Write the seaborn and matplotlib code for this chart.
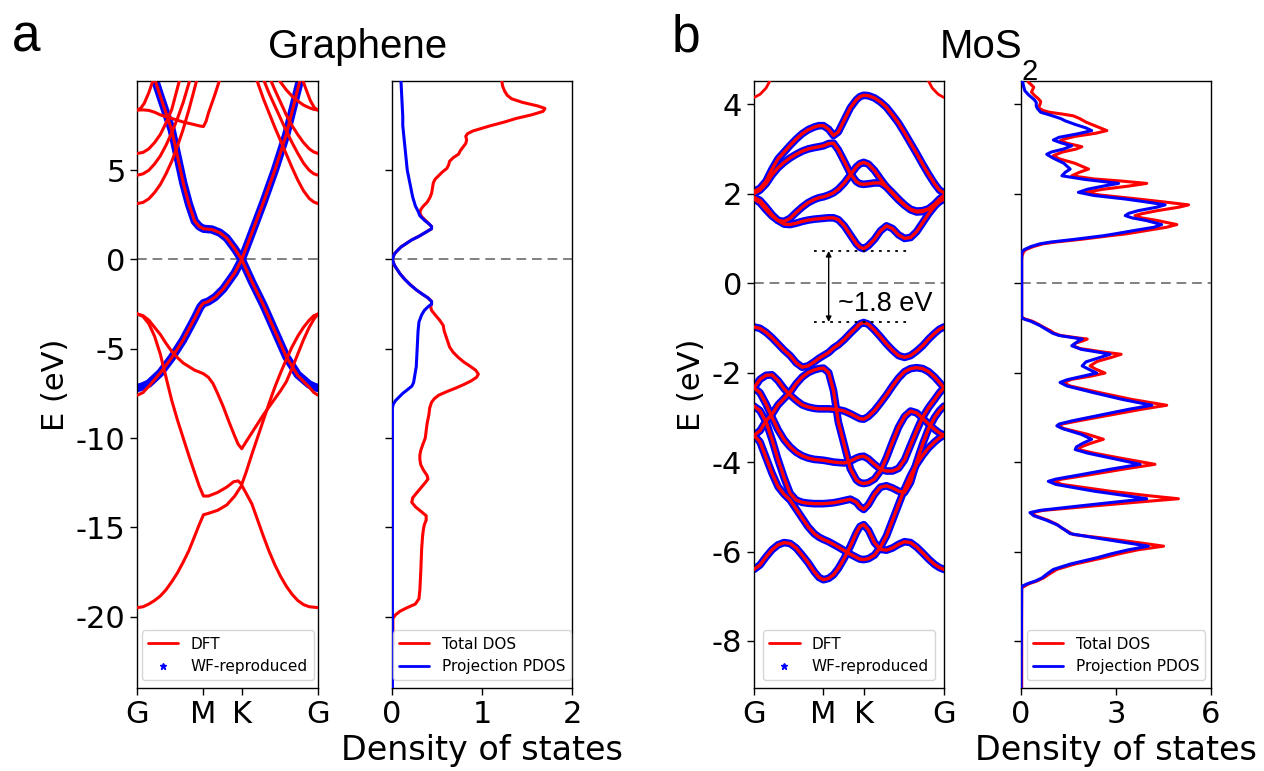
import numpy as np
import pandas as pd
import matplotlib
matplotlib.use("Agg")
import matplotlib.pyplot as plt
import seaborn as sns
from matplotlib.lines import Line2D

# ------------------------------------------------------------------ data
KPATH = [0.0, 0.577, 0.911, 1.577]
KLABELS = ["G", "M", "K", "G"]

# ---- graphene DFT bands, (k, E) pairs
gr_pi = [(0, -7.6), (0.05, -7.45), (0.1, -7.1), (0.2, -6.35), (0.3, -5.5), (0.4, -4.5), (0.5, -3.3),
         (0.55, -2.65), (0.577, -2.45), (0.62, -2.35), (0.68, -2.1), (0.75, -1.65), (0.85, -0.75),
         (0.911, 0.0), (1.0, -1.25), (1.1, -2.55), (1.2, -4.0), (1.3, -5.45), (1.4, -6.5), (1.5, -7.15),
         (1.54, -7.45), (1.577, -7.6)]
gr_pistar = [(0.154, 10.05), (0.2, 9.15), (0.3, 7.25), (0.4, 4.3), (0.45, 3.1), (0.5, 2.15), (0.54, 1.85),
             (0.577, 1.72), (0.65, 1.68), (0.72, 1.5), (0.78, 1.2), (0.85, 0.6), (0.911, 0.0), (1.0, 1.5),
             (1.1, 3.2), (1.2, 5.0), (1.3, 7.0), (1.42, 10.05)]
gr_s1 = [(0, -19.5), (0.05, -19.45), (0.1, -19.3), (0.15, -19.1), (0.2, -18.85), (0.25, -18.5), (0.3, -18.05),
         (0.35, -17.55), (0.4, -16.95), (0.45, -16.3), (0.5, -15.5), (0.54, -14.85), (0.577, -14.3),
         (0.62, -14.22), (0.7, -14.05), (0.78, -13.75), (0.85, -13.25), (0.88, -12.95), (0.911, -12.65),
         (0.95, -13.1), (1.0, -13.7), (1.05, -14.6), (1.1, -15.5), (1.15, -16.35), (1.2, -17.1),
         (1.25, -17.75), (1.3, -18.3), (1.35, -18.75), (1.4, -19.1), (1.45, -19.33), (1.5, -19.45),
         (1.577, -19.5)]
gr_s2 = [(0, -3.05), (0.05, -3.2), (0.1, -3.6), (0.15, -4.3), (0.2, -5.3), (0.25, -6.6), (0.3, -7.9),
         (0.35, -9.0), (0.4, -10.0), (0.45, -11.0), (0.5, -11.95), (0.54, -12.7), (0.577, -13.25),
         (0.62, -13.25), (0.7, -13.05), (0.78, -12.75), (0.84, -12.45), (0.88, -12.4), (0.911, -12.6),
         (0.95, -11.9), (1.0, -10.9), (1.05, -9.95), (1.1, -9.0), (1.15, -8.05), (1.2, -7.15),
         (1.25, -6.35), (1.3, -5.6), (1.35, -4.9), (1.4, -4.3), (1.45, -3.8), (1.5, -3.4), (1.54, -3.15),
         (1.577, -3.05)]
gr_s3 = [(0, -3.05), (0.05, -3.15), (0.1, -3.4), (0.15, -3.8), (0.2, -4.2), (0.25, -4.7), (0.3, -5.15),
         (0.35, -5.5), (0.4, -5.8), (0.45, -6.0), (0.5, -6.2), (0.54, -6.3), (0.577, -6.4), (0.62, -6.6),
         (0.66, -6.95), (0.7, -7.5), (0.75, -8.25), (0.8, -9.1), (0.85, -9.9), (0.88, -10.35),
         (0.911, -10.6), (0.95, -10.2), (1.0, -9.7), (1.05, -9.2), (1.1, -8.7), (1.15, -8.25), (1.2, -7.8),
         (1.25, -7.35), (1.3, -6.85), (1.35, -6.1), (1.4, -5.3), (1.45, -4.5), (1.5, -3.8), (1.54, -3.35),
         (1.577, -3.05)]
gr_c1 = [(0, 3.13), (0.05, 3.2), (0.1, 3.4), (0.15, 3.75), (0.2, 4.2), (0.25, 4.8), (0.3, 5.5), (0.35, 6.35),
         (0.4, 7.3), (0.45, 8.4), (0.5, 9.6), (0.52, 10.1)]
gr_c2 = [(0, 4.72), (0.05, 4.8), (0.1, 5.0), (0.15, 5.35), (0.2, 5.8), (0.25, 6.4), (0.3, 7.1), (0.35, 7.9),
         (0.4, 8.8), (0.46, 10.1)]
gr_c3 = [(0, 5.94), (0.05, 6.0), (0.1, 6.2), (0.15, 6.55), (0.2, 7.0), (0.25, 7.65), (0.3, 8.4), (0.37, 10.1)]
gr_c4 = [(0, 8.37), (0.05, 8.38), (0.1, 8.35), (0.15, 8.25), (0.2, 8.1), (0.3, 7.9), (0.4, 7.7), (0.5, 7.55),
         (0.55, 7.47), (0.577, 7.45), (0.6, 7.75), (0.62, 8.2), (0.65, 8.75), (0.68, 9.3), (0.72, 10.1)]
gr_c5 = [(0, 8.37), (0.03, 8.48), (0.06, 8.75), (0.1, 9.35), (0.14, 10.1)]
gr_c1r = [(1.04, 10.1), (1.1, 9.0), (1.15, 8.2), (1.2, 7.4), (1.25, 6.65), (1.3, 5.9), (1.35, 5.15), (1.4, 4.45),
          (1.45, 3.85), (1.5, 3.42), (1.54, 3.22), (1.577, 3.13)]
gr_c2r = [(1.1, 10.1), (1.15, 9.3), (1.2, 8.6), (1.25, 7.9), (1.3, 7.2), (1.35, 6.55), (1.4, 5.95), (1.45, 5.4),
          (1.5, 5.0), (1.54, 4.8), (1.577, 4.72)]
gr_c3r = [(1.16, 10.1), (1.2, 9.5), (1.25, 8.8), (1.3, 8.1), (1.35, 7.5), (1.4, 7.0), (1.45, 6.55), (1.5, 6.2),
          (1.54, 6.02), (1.577, 5.94)]
gr_c4r = [(1.23, 10.1), (1.3, 9.5), (1.35, 9.15), (1.4, 8.88), (1.45, 8.65), (1.5, 8.5), (1.54, 8.41),
          (1.577, 8.37)]
gr_c5r = [(1.44, 10.1), (1.48, 9.4), (1.51, 8.9), (1.545, 8.5), (1.577, 8.37)]

# ---- graphene Wannier-reproduced bands (pz only)
gr_wf_pi = [(0, -7.2), (0.05, -7.1), (0.1, -6.95), (0.2, -6.35), (0.3, -5.5), (0.4, -4.5), (0.5, -3.3),
            (0.55, -2.65), (0.577, -2.45), (0.62, -2.35), (0.68, -2.1), (0.75, -1.65), (0.85, -0.75),
            (0.911, 0.0), (1.0, -1.25), (1.1, -2.55), (1.2, -4.0), (1.3, -5.45), (1.4, -6.45), (1.5, -7.0),
            (1.54, -7.12), (1.577, -7.2)]
gr_wf_pistar = gr_pistar

# ---- graphene DOS (E, value)
gr_tdos_E = [10.0, 9.7, 9.45, 9.2, 9.0, 8.8, 8.6, 8.46, 8.3, 8.1, 7.9, 7.7, 7.5, 7.35, 7.2, 7.05, 6.9, 6.7,
             6.5, 6.3, 6.1, 5.9, 5.7, 5.5, 5.3, 5.1, 4.9, 4.7, 4.5, 4.3, 4.0, 3.7, 3.45, 3.2, 3.0, 2.8,
             2.6, 2.4, 2.2, 2.0, 1.85, 1.72, 1.6, 1.45, 1.3, 1.1, 0.9, 0.7, 0.5, 0.3, 0.0, -0.3, -0.5,
             -0.8, -1.1, -1.4, -1.7, -1.95, -2.15, -2.35, -2.5, -2.65, -2.85, -3.1, -3.4, -3.7, -4.0,
             -4.3, -4.6, -4.9, -5.2, -5.5, -5.75, -5.95, -6.2, -6.42, -6.6, -6.8, -7.0, -7.2, -7.4,
             -7.6, -7.8, -8.0, -8.3, -8.7, -9.2, -9.6, -10.0, -10.4, -10.7, -10.95, -11.2, -11.5,
             -11.8, -12.1, -12.3, -12.5, -12.8, -13.1, -13.35, -13.6, -13.85, -14.1, -14.35, -14.6,
             -14.85, -15.1, -15.5, -16.2, -17.5, -18.5, -19.0, -19.3, -19.5, -19.7, -19.9, -20.1, -21.6]
gr_tdos = [1.22, 1.23, 1.25, 1.28, 1.33, 1.45, 1.62, 1.70, 1.68, 1.55, 1.38, 1.25, 1.10, 1.00, 0.90, 0.84,
           0.82, 0.83, 0.82, 0.79, 0.76, 0.74, 0.68, 0.64, 0.63, 0.61, 0.56, 0.52, 0.48, 0.46, 0.45, 0.44,
           0.42, 0.39, 0.35, 0.32, 0.31, 0.33, 0.37, 0.41, 0.44, 0.44, 0.40, 0.35, 0.30, 0.22, 0.16, 0.10,
           0.06, 0.025, 0.005, 0.025, 0.05, 0.09, 0.14, 0.20, 0.27, 0.34, 0.40, 0.44, 0.44, 0.43, 0.44,
           0.48, 0.53, 0.57, 0.58, 0.60, 0.62, 0.64, 0.68, 0.74, 0.80, 0.86, 0.93, 0.96, 0.94, 0.88,
           0.80, 0.71, 0.61, 0.52, 0.47, 0.44, 0.42, 0.41, 0.39, 0.38, 0.37, 0.34, 0.32, 0.31, 0.31,
           0.32, 0.35, 0.39, 0.40, 0.37, 0.32, 0.27, 0.23, 0.22, 0.26, 0.32, 0.38, 0.38, 0.36, 0.35,
           0.34, 0.33, 0.32, 0.31, 0.30, 0.26, 0.17, 0.09, 0.04, 0.01, 0.01]
gr_pdos_E = [10.0, 9.0, 8.0, 7.5, 7.0, 6.5, 6.0, 5.5, 5.0, 4.5, 4.0, 3.5, 3.0, 2.7, 2.45, 2.2, 2.0, 1.85,
             1.72, 1.6, 1.45, 1.3, 1.1, 0.9, 0.7, 0.5, 0.3, 0.0, -0.3, -0.5, -0.8, -1.1, -1.4, -1.7,
             -1.95, -2.15, -2.35, -2.5, -2.65, -2.85, -3.1, -3.5, -4.0, -5.0, -6.0, -6.6, -6.9, -7.1,
             -7.3, -7.5, -7.7, -7.9, -8.1, -8.3, -24.0]
gr_pdos = [0.10, 0.11, 0.12, 0.12, 0.13, 0.14, 0.15, 0.16, 0.17, 0.19, 0.21, 0.23, 0.26, 0.29, 0.31, 0.36,
           0.41, 0.44, 0.44, 0.40, 0.35, 0.30, 0.22, 0.16, 0.10, 0.06, 0.025, 0.005, 0.025, 0.05, 0.09,
           0.14, 0.20, 0.27, 0.34, 0.40, 0.44, 0.44, 0.40, 0.36, 0.33, 0.30, 0.29, 0.28, 0.27, 0.25,
           0.24, 0.22, 0.17, 0.12, 0.08, 0.04, 0.015, 0.005, 0.005]

# ---- MoS2 bands on a common k grid
mo_k = [0, 0.05, 0.1, 0.15, 0.2, 0.25, 0.3, 0.35, 0.4, 0.45, 0.5, 0.54, 0.577, 0.62, 0.66, 0.7, 0.75, 0.8,
        0.85, 0.88, 0.911, 0.95, 1.0, 1.05, 1.1, 1.15, 1.2, 1.25, 1.3, 1.35, 1.4, 1.45, 1.5, 1.54, 1.577]
mo_cb_a = [2.05, 2.12, 2.28, 2.55, 2.78, 2.93, 3.08, 3.22, 3.34, 3.43, 3.49, 3.52, 3.52, 3.44, 3.30, 3.38,
           3.65, 3.92, 4.10, 4.17, 4.20, 4.19, 4.14, 4.05, 3.93, 3.76, 3.58, 3.36, 3.13, 2.90, 2.66, 2.43,
           2.22, 2.08, 2.02]
mo_cb_b = [2.00, 2.08, 2.22, 2.42, 2.58, 2.70, 2.80, 2.88, 2.95, 3.00, 3.03, 3.05, 3.07, 3.12, 3.13, 2.98,
           2.72, 2.45, 2.27, 2.22, 2.21, 2.22, 2.24, 2.24, 2.15, 2.02, 1.88, 1.75, 1.64, 1.59, 1.60, 1.66,
           1.77, 1.88, 1.96]
mo_cb_c = [1.92, 1.85, 1.70, 1.53, 1.40, 1.32, 1.31, 1.34, 1.38, 1.41, 1.43, 1.44, 1.45, 1.46, 1.46, 1.42,
           1.28, 1.08, 0.88, 0.80, 0.77, 0.84, 0.98, 1.17, 1.28, 1.22, 1.08, 1.00, 1.02, 1.15, 1.35, 1.55,
           1.72, 1.84, 1.92]
mo_cb_d = [1.88, 1.80, 1.64, 1.50, 1.40, 1.38, 1.45, 1.58, 1.70, 1.80, 1.87, 1.91, 1.93, 1.97, 2.02, 2.10,
           2.24, 2.42, 2.60, 2.67, 2.70, 2.66, 2.52, 2.33, 2.15, 2.00, 1.86, 1.74, 1.65, 1.61, 1.62, 1.66,
           1.74, 1.82, 1.88]
mo_vb_1 = [-0.98, -1.01, -1.10, -1.22, -1.36, -1.50, -1.62, -1.78, -1.88, -1.85, -1.76, -1.68, -1.62, -1.55,
           -1.45, -1.38, -1.26, -1.12, -0.99, -0.91, -0.88, -0.92, -1.05, -1.20, -1.36, -1.50, -1.62, -1.66,
           -1.62, -1.52, -1.40, -1.25, -1.12, -1.03, -0.98]
mo_vb_2 = [-2.34, -2.15, -2.06, -2.05, -2.18, -2.36, -2.50, -2.62, -2.72, -2.77, -2.80, -2.81, -2.81, -2.81,
           -2.82, -2.83, -2.86, -2.92, -2.99, -3.03, -3.04, -2.98, -2.85, -2.68, -2.50, -2.30, -2.12, -1.98,
           -1.91, -1.89, -1.91, -1.98, -2.10, -2.22, -2.34]
mo_vb_3 = [-3.40, -3.30, -3.08, -2.93, -2.72, -2.58, -2.44, -2.25, -2.10, -2.00, -1.94, -1.91, -1.90, -2.00,
           -2.40, -3.10, -3.62, -4.15, -4.40, -4.46, -4.48, -4.46, -4.38, -4.20, -3.90, -3.55, -3.22, -2.98,
           -2.86, -2.90, -3.02, -3.15, -3.27, -3.35, -3.40]
mo_vb_4 = [-2.34, -2.45, -2.70, -3.00, -3.28, -3.50, -3.66, -3.78, -3.86, -3.91, -3.94, -3.95, -3.96, -3.98,
           -4.00, -4.01, -4.02, -3.98, -3.91, -3.88, -3.87, -3.93, -4.05, -4.16, -4.20, -4.20, -4.14, -3.95,
           -3.62, -3.30, -3.00, -2.78, -2.60, -2.45, -2.34]
mo_vb_5 = [-2.75, -2.85, -3.10, -3.50, -3.95, -4.35, -4.70, -4.85, -4.90, -4.92, -4.93, -4.93, -4.93, -4.92,
           -4.91, -4.89, -4.86, -4.83, -4.90, -5.00, -5.06, -4.95, -4.72, -4.56, -4.53, -4.58, -4.65, -4.68,
           -4.45, -4.00, -3.60, -3.25, -3.00, -2.85, -2.75]
mo_vb_6 = [-3.40, -3.55, -3.90, -4.25, -4.55, -4.72, -4.85, -5.05, -5.25, -5.45, -5.60, -5.68, -5.73, -5.78,
           -5.84, -5.90, -5.98, -6.06, -6.13, -6.17, -6.18, -6.16, -6.08, -5.90, -5.65, -5.30, -4.95, -4.60,
           -4.30, -4.05, -3.85, -3.68, -3.55, -3.46, -3.40]
mo_vb_7 = [-6.40, -6.30, -6.12, -5.96, -5.85, -5.80, -5.82, -5.92, -6.08, -6.25, -6.45, -6.58, -6.63, -6.60,
           -6.52, -6.38, -6.15, -5.88, -5.58, -5.44, -5.40, -5.52, -5.80, -5.95, -5.97, -5.92, -5.84, -5.78,
           -5.80, -5.90, -6.03, -6.17, -6.29, -6.36, -6.40]
mo_top_l = [(0, 4.15), (0.05, 4.22), (0.1, 4.36), (0.14, 4.56)]
mo_top_r = [(1.44, 4.56), (1.48, 4.36), (1.53, 4.22), (1.577, 4.15)]

# ---- MoS2 DOS (E, value)
mo_tdos_E = [4.50, 4.45, 4.38, 4.32, 4.27, 4.20, 4.12, 4.06, 4.00, 3.92, 3.86, 3.82, 3.78, 3.74, 3.68, 3.60,
             3.50, 3.41, 3.35, 3.28, 3.22, 3.18, 3.12, 3.05, 3.00, 2.93, 2.85, 2.78, 2.68, 2.55, 2.48,
             2.40, 2.33, 2.28, 2.23, 2.17, 2.10, 2.03, 1.97, 1.88, 1.80, 1.75, 1.70, 1.62, 1.55, 1.51,
             1.46, 1.40, 1.31, 1.25, 1.18, 1.10, 1.06, 0.98, 0.92, 0.88, 0.82, 0.75, 0.69, 0.60, 0.50,
             -0.76, -0.80, -0.85, -0.92, -1.00, -1.06, -1.12, -1.17, -1.22, -1.25, -1.29, -1.34, -1.40,
             -1.46, -1.53, -1.59, -1.65, -1.75, -1.85, -1.92, -2.01, -2.08, -2.15, -2.22, -2.30, -2.45,
             -2.60, -2.73, -2.82, -2.95, -3.08, -3.15, -3.19, -3.25, -3.38, -3.49, -3.58, -3.66, -3.72,
             -3.80, -3.92, -4.05, -4.15, -4.28, -4.38, -4.43, -4.50, -4.65, -4.75, -4.82, -4.90, -5.00,
             -5.08, -5.13, -5.20, -5.30, -5.40, -5.48, -5.56, -5.62, -5.70, -5.80, -5.88, -5.96, -6.05,
             -6.14, -6.28, -6.40, -6.50, -6.59, -6.66, -6.72, -6.81, -9.05]
mo_tdos = [0.22, 0.30, 0.40, 0.36, 0.33, 0.42, 0.55, 0.62, 0.60, 0.55, 0.70, 0.90, 1.30, 1.65, 1.85, 2.05,
           2.40, 2.71, 2.35, 1.70, 1.35, 1.23, 1.50, 1.92, 1.75, 1.30, 1.02, 1.20, 1.70, 2.13, 1.85,
           1.60, 2.30, 3.20, 3.97, 3.40, 2.60, 2.02, 2.50, 3.70, 4.70, 5.29, 5.00, 4.30, 3.80, 3.60,
           3.80, 4.30, 4.92, 4.60, 4.00, 3.30, 2.81, 1.90, 1.10, 0.70, 0.40, 0.15, 0.07, 0.03, 0.02,
           0.02, 0.12, 0.35, 0.55, 0.75, 0.92, 1.05, 1.25, 1.75, 2.09, 1.95, 1.72, 1.65,
           1.85, 2.50, 3.16, 2.90, 2.40, 2.18, 2.35, 2.65, 2.20, 1.60, 1.34, 1.55, 2.50,
           3.50, 4.60, 3.80, 2.80, 1.80, 1.30, 1.18, 1.35, 2.10, 2.60, 2.20, 1.90, 1.81,
           2.30, 3.20, 4.23, 3.30, 2.20, 1.30, 1.02, 1.30, 2.80, 4.00, 4.97, 3.60, 2.00,
           0.70, 0.34, 0.45, 0.85, 1.15, 1.30, 1.50, 1.65, 2.60, 3.70, 4.50, 3.70, 3.10,
           2.60, 1.70, 1.13, 0.90, 0.71, 0.50, 0.25, 0.02, 0.02]
mo_pdos_E = [4.50, 4.40, 4.30, 4.20, 4.10, 4.04, 3.96, 3.90, 3.82, 3.75, 3.68, 3.63, 3.55, 3.47, 3.41, 3.34,
             3.26, 3.20, 3.14, 3.07, 3.00, 2.93, 2.88, 2.80, 2.68, 2.55, 2.48, 2.40, 2.32, 2.27, 2.23,
             2.17, 2.10, 2.03, 1.96, 1.88, 1.80, 1.75, 1.70, 1.62, 1.56, 1.51, 1.46, 1.40, 1.31, 1.25,
             1.18, 1.10, 1.06, 0.98, 0.92, 0.88, 0.82, 0.75, 0.69, 0.50,
             -0.76, -0.80, -0.85, -0.95, -1.04, -1.12, -1.17, -1.22, -1.25, -1.30, -1.40, -1.48, -1.55,
             -1.59, -1.66, -1.76, -1.85, -1.93, -2.01, -2.08, -2.16, -2.22, -2.30, -2.45, -2.60, -2.73,
             -2.82, -2.95, -3.08, -3.15, -3.19, -3.25, -3.38, -3.49, -3.58, -3.66, -3.72, -3.80, -3.92,
             -4.05, -4.15, -4.28, -4.38, -4.43, -4.50, -4.65, -4.75, -4.82, -4.90, -5.00, -5.08, -5.13,
             -5.20, -5.30, -5.40, -5.50, -5.60, -5.70, -5.80, -5.88, -5.96, -6.05, -6.14, -6.28, -6.40,
             -6.50, -6.59, -6.66, -6.72, -6.78, -9.05]
mo_pdos = [0.05, 0.08, 0.12, 0.25, 0.42, 0.48, 0.48, 0.52, 0.62, 0.95, 1.25, 1.39, 1.70, 2.05, 2.23, 1.80,
           1.20, 1.02, 1.25, 1.60, 1.35, 0.95, 0.81, 1.00, 1.35, 1.55, 1.40, 1.29, 2.00, 2.60, 3.08,
           2.60, 2.10, 1.81, 2.30, 3.30, 4.10, 4.55, 4.30, 3.70, 3.40, 3.29, 3.50, 3.95, 4.44, 4.20,
           3.60, 2.95, 2.60, 1.70, 0.95, 0.60, 0.32, 0.10, 0.02, 0.02,
           0.02, 0.08, 0.30, 0.60, 0.81, 1.00, 1.20, 1.65, 1.93, 1.80, 1.60, 1.90, 2.50,
           2.81, 2.50, 2.05, 1.93, 2.15, 2.39, 1.95, 1.45, 1.23, 1.45, 2.30, 3.20, 4.13,
           3.40, 2.50, 1.60, 1.20, 1.13, 1.30, 1.90, 2.23, 1.95, 1.75, 1.71, 2.10, 2.90,
           3.76, 2.90, 1.90, 1.10, 0.86, 1.10, 2.30, 3.30, 3.97, 2.90, 1.60, 0.60, 0.28,
           0.40, 0.80, 1.13, 1.35, 1.55, 2.40, 3.30, 4.02, 3.40, 2.85, 2.39, 1.55, 1.02,
           0.82, 0.66, 0.45, 0.20, 0.02, 0.0]

# ------------------------------------------------------------------ style
sns.set_style("ticks")
plt.rcParams["font.family"] = ["DejaVu Sans"]
plt.rcParams["axes.linewidth"] = 1.0
plt.rcParams["xtick.major.size"] = 5
plt.rcParams["ytick.major.size"] = 5
for key in ["xtick.color", "ytick.color", "axes.edgecolor", "text.color", "axes.labelcolor"]:
    plt.rcParams[key] = "black"

TICK_FS = 22
XLAB_FS = 24
LEG_FS = 11
RED = "#ff0000"
BLUE = "#0000ff"


def pairs_df(bands):
    rows = []
    for i, b in enumerate(bands):
        for k, e in b:
            rows.append((i, k, e))
    return pd.DataFrame(rows, columns=["band", "k", "E"])


def grid_df(kgrid, bands):
    rows = []
    for i, b in enumerate(bands):
        for k, e in zip(kgrid, b):
            rows.append((i, k, e))
    return pd.DataFrame(rows, columns=["band", "k", "E"])


def draw_bands(ax, df, color, lw, z):
    sns.lineplot(data=df, x="k", y="E", units="band", estimator=None, sort=False,
                 color=color, linewidth=lw, ax=ax, legend=False, zorder=z,
                 solid_capstyle="round", solid_joinstyle="round")


def draw_dos(ax, vals, energies, color, z):
    sns.lineplot(x=vals, y=energies, sort=False, estimator=None, orient="y", color=color,
                 lw=2.2, ax=ax, zorder=z, solid_joinstyle="round")


def band_legend(ax):
    h = [Line2D([], [], color=RED, lw=2),
         Line2D([], [], color=BLUE, lw=0, marker="*", markersize=5)]
    ax.legend(h, ["DFT", "WF-reproduced"], loc="lower center", fontsize=LEG_FS,
              handlelength=2.0, borderaxespad=0.5)


def dos_legend(ax):
    h = [Line2D([], [], color=RED, lw=2), Line2D([], [], color=BLUE, lw=2)]
    ax.legend(h, ["Total DOS", "Projection PDOS"], loc="lower center", fontsize=LEG_FS,
              handlelength=2.0, borderaxespad=0.5)


def style_band_axis(ax, ylim, yticks):
    ax.set_xlim(KPATH[0], KPATH[-1])
    ax.set_ylim(*ylim)
    ax.set_xticks(KPATH)
    ax.set_xticklabels(KLABELS)
    ax.set_yticks(yticks)
    ax.set_yticklabels([str(t) for t in yticks])
    ax.tick_params(labelsize=TICK_FS, direction="out", width=1)
    ax.set_xlabel("")
    ax.set_ylabel("E (eV)", fontsize=TICK_FS)
    ax.axhline(0, color="gray", ls=(0, (5, 3)), lw=1.4, zorder=1)


def style_dos_axis(ax, ylim, yticks, xlim, xticks):
    ax.set_xlim(*xlim)
    ax.set_ylim(*ylim)
    ax.set_xticks(xticks)
    ax.set_xticklabels([str(t) for t in xticks])
    ax.set_yticks(yticks)
    ax.set_yticklabels([])
    ax.tick_params(labelsize=TICK_FS, direction="out", width=1)
    ax.set_ylabel("")
    ax.set_xlabel("Density of states", fontsize=XLAB_FS)
    ax.axhline(0, color="gray", ls=(0, (5, 3)), lw=1.4, zorder=1)


fig = plt.figure(figsize=(12.64, 7.71), dpi=100)
bottom, height = 0.1077, 0.7873
ax1 = fig.add_axes([0.1087, bottom, 0.1429, height])
ax2 = fig.add_axes([0.3101, bottom, 0.1424, height])
ax3 = fig.add_axes([0.5965, bottom, 0.1503, height])
ax4 = fig.add_axes([0.8078, bottom, 0.1503, height])

# ---- graphene bands
draw_bands(ax1, pairs_df([gr_wf_pi, gr_wf_pistar]), BLUE, 6.0, 2)
draw_bands(ax1, pairs_df([gr_pi, gr_pistar, gr_s1, gr_s2, gr_s3, gr_c1, gr_c2, gr_c3, gr_c4, gr_c5,
                          gr_c1r, gr_c2r, gr_c3r, gr_c4r, gr_c5r]), RED, 2.2, 3)
style_band_axis(ax1, (-24, 10), [5, 0, -5, -10, -15, -20])
band_legend(ax1)

# ---- graphene DOS
draw_dos(ax2, gr_tdos, gr_tdos_E, RED, 3)
draw_dos(ax2, gr_pdos, gr_pdos_E, BLUE, 4)
style_dos_axis(ax2, (-24, 10), [5, 0, -5, -10, -15, -20], (0, 2), [0, 1, 2])
dos_legend(ax2)

# ---- MoS2 bands
mo_all = [mo_cb_a, mo_cb_b, mo_cb_c, mo_cb_d, mo_vb_1, mo_vb_2, mo_vb_3, mo_vb_4, mo_vb_5, mo_vb_6, mo_vb_7]
draw_bands(ax3, grid_df(mo_k, mo_all), BLUE, 5.5, 2)
draw_bands(ax3, grid_df(mo_k, mo_all), RED, 2.4, 3)
draw_bands(ax3, pairs_df([mo_top_l, mo_top_r]), RED, 2.0, 3)
style_band_axis(ax3, (-9.05, 4.52), [4, 2, 0, -2, -4, -6, -8])
band_legend(ax3)

# gap annotation
vbm, cbm = -0.87, 0.72
ax3.plot([0.50, 1.28], [cbm, cbm], color="black", ls=(0, (1.5, 3)), lw=1.3, zorder=5)
ax3.plot([0.50, 1.29], [vbm, vbm], color="black", ls=(0, (1.5, 3)), lw=1.3, zorder=5)
ax3.annotate("", xy=(0.62, vbm), xytext=(0.62, cbm),
             arrowprops=dict(arrowstyle="<|-|>", color="black", lw=1.0, mutation_scale=8, shrinkA=0, shrinkB=0))
ax3.text(0.70, -0.46, "~1.8 eV", fontsize=19.5, family="Liberation Sans", ha="left", va="center")

# ---- MoS2 DOS
draw_dos(ax4, mo_tdos, mo_tdos_E, RED, 3)
draw_dos(ax4, mo_pdos, mo_pdos_E, BLUE, 4)
style_dos_axis(ax4, (-9.05, 4.52), [4, 2, 0, -2, -4, -6, -8], (0, 6), [0, 3, 6])
dos_legend(ax4)

# ---- titles and panel letters
fig.text(0.0095, 0.9326, "a", fontsize=37, family="Liberation Sans", ha="left", va="baseline")
fig.text(0.5316, 0.9326, "b", fontsize=37, family="Liberation Sans", ha="left", va="baseline")
fig.text(0.283, 0.925, "Graphene", fontsize=29, family="Liberation Sans", ha="center", va="baseline")
fig.text(0.7437, 0.925, "MoS", fontsize=29, family="Liberation Sans", ha="left", va="baseline")
fig.text(0.8085, 0.8962, "2", fontsize=21, family="Liberation Sans", ha="left", va="baseline")

fig.savefig("out.png", dpi=100)
